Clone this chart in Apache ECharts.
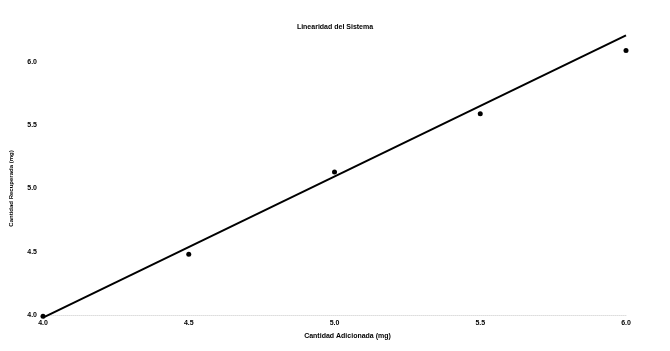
<!DOCTYPE html>
<html>
<head>
<meta charset="utf-8">
<script src="https://cdn.jsdelivr.net/npm/echarts@6/dist/echarts.min.js"></script>
<style>html,body{margin:0;padding:0;background:#fff;}#c{width:670px;height:351px;}</style>
</head>
<body>
<div id="c"></div>
<script>
const addedX = [4.0, 4.5, 5.0, 5.5, 6.0];
const recoveredY = [3.99, 4.48, 5.13, 5.59, 6.09];
const fitLineX = [4.0, 6.0];
const fitLineY = [3.98, 6.21];
const tickLabels = ['4.0', '4.5', '5.0', '5.5', '6.0'];

const chart = echarts.init(document.getElementById('c'));
const font = 'Liberation Sans, Arial, sans-serif';
chart.setOption({
  backgroundColor: '#fff',
  animation: false,
  title: {
    text: 'Linearidad del Sistema',
    left: 'center', top: 19,
    textStyle: {fontSize: 7, fontWeight: 'bold', color: '#000', fontFamily: font}
  },
  grid: {left: 42, right: 44, top: 62, bottom: 36},
  xAxis: {
    type: 'value', min: 4, max: 6, interval: 0.5,
    name: 'Cantidad Adicionada (mg)', nameLocation: 'middle', nameGap: 18,
    nameTextStyle: {fontSize: 7, fontWeight: 'bold', color: '#000', fontFamily: font, padding: [0, 0, 0, 26]},
    axisLine: {show: true, lineStyle: {color: '#ddd', type: 'dotted', width: 1}},
    axisTick: {show: false},
    splitLine: {show: false},
    axisLabel: {fontSize: 7, fontWeight: 'bold', color: '#000', fontFamily: font, margin: 5,
      formatter: v => tickLabels[Math.round((v - 4) / 0.5)] || ''}
  },
  yAxis: {
    type: 'value', min: 4, max: 6, interval: 0.5,
    name: 'Cantidad Recuperada (mg)', nameLocation: 'middle', nameGap: 29,
    nameTextStyle: {fontSize: 6, fontWeight: 'bold', color: '#000', fontFamily: font},
    axisLine: {show: false},
    axisTick: {show: false},
    splitLine: {show: false},
    axisLabel: {fontSize: 7, fontWeight: 'bold', color: '#000', fontFamily: font, margin: 6,
      formatter: v => tickLabels[Math.round((v - 4) / 0.5)] || ''}
  },
  series: [
    {
      type: 'line', clip: false, symbol: 'none',
      data: fitLineX.map((x, i) => [x, fitLineY[i]]),
      lineStyle: {color: '#000', width: 2}
    },
    {
      type: 'scatter', clip: false, symbolSize: 5,
      data: addedX.map((x, i) => [x, recoveredY[i]]),
      itemStyle: {color: '#000', opacity: 1}
    }
  ]
});
</script>
</body>
</html>
